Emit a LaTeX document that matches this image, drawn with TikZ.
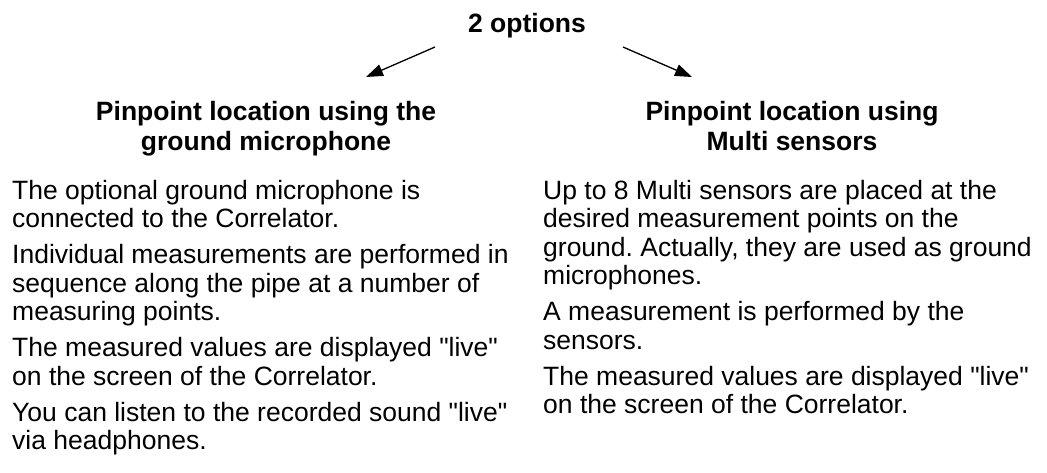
\documentclass[tikz,border=0pt]{standalone}
\usepackage{fontspec}
\setmainfont{Liberation Sans}
\usetikzlibrary{arrows.meta}
\newcommand{\live}{\textquotedbl live\textquotedbl}
\begin{document}
\frenchspacing
\begin{tikzpicture}[x=1pt,y=1pt,
  txt/.style={inner sep=0pt, font=\fontsize{26.5}{28.5}\selectfont},
  headtxt/.style={txt, align=center, anchor=north, font=\fontsize{26.5}{30.5}\selectfont\bfseries},
  bodytxt/.style={txt, align=left, anchor=north west},
  arr/.style={line width=1.3pt, -{Triangle[length=17pt,width=12pt]}}]
  \useasboundingbox (0,0) rectangle (1047,-472);
  \node[headtxt] (opts) at (527,-13) {2 options};
  \node[headtxt] (lhead) at (266,-101) {Pinpoint location using the\\ground microphone};
  \node[headtxt] (rhead) at (792,-101) {Pinpoint location using\\Multi sensors};
  \coordinate (lfrom) at (435,-47); \coordinate (lto) at (366,-77);
  \coordinate (rfrom) at (623,-47); \coordinate (rto) at (692,-77);
  \draw[arr] (lfrom) -- (lto);
  \draw[arr] (rfrom) -- (rto);
  \node[bodytxt] (lbody) at (12,-180) {The optional ground microphone is\\
    connected to the Correlator.\\[7.5pt]
    Individual measurements are performed in\\
    sequence along the pipe at a number of\\
    measuring points.\\[7.5pt]
    The measured values are displayed \live\\
    on the screen of the Correlator.\\[7.5pt]
    You can listen to the recorded sound \live\\
    via headphones.};
  \node[bodytxt] (rbody) at (543,-180) {Up to 8 Multi sensors are placed at the\\
    desired measurement points on the\\
    ground. Actually, they are used as ground\\
    microphones.\\[7.5pt]
    A measurement is performed by the\\
    sensors.\\[7.5pt]
    The measured values are displayed \live\\
    on the screen of the Correlator.};
\end{tikzpicture}
\end{document}
